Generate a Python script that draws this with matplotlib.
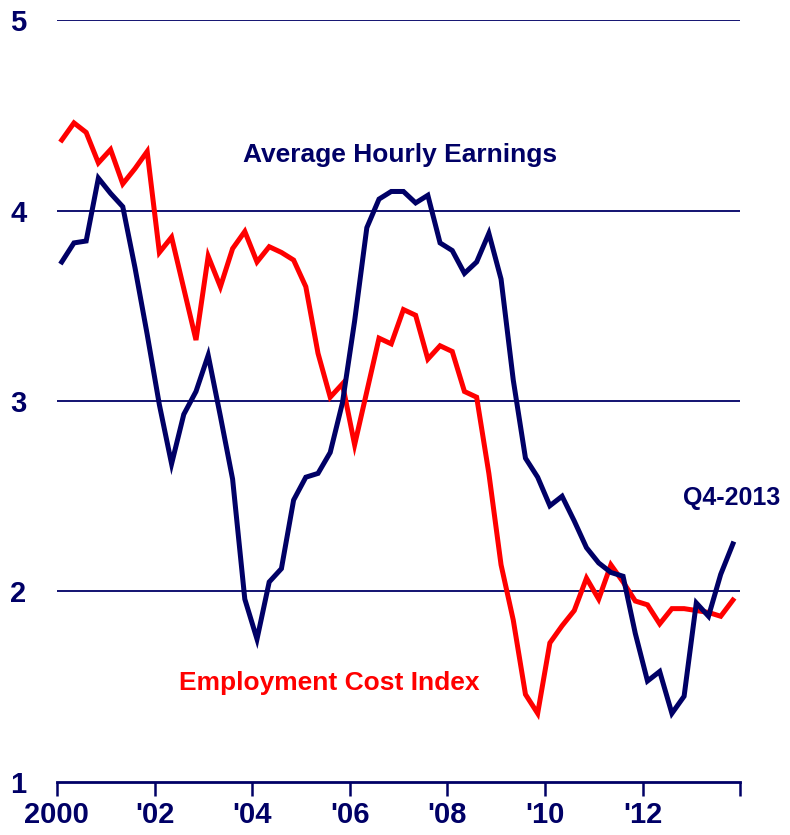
import matplotlib
matplotlib.use("Agg")
import matplotlib.pyplot as plt
import numpy as np

# Quarterly data, Q1-2000 .. Q4-2013 (year-over-year % change)
ahe = [3.73, 3.83, 3.84, 4.17, 4.09, 4.02, 3.70, 3.35, 2.98, 2.67,
       2.93, 3.05, 3.24, 2.92, 2.59, 1.96, 1.75, 2.05, 2.12, 2.48,
       2.60, 2.62, 2.73, 2.99, 3.42, 3.91, 4.06, 4.10, 4.10, 4.04,
       4.08, 3.83, 3.79, 3.67, 3.73, 3.88, 3.64, 3.11, 2.70, 2.60,
       2.45, 2.50, 2.37, 2.23, 2.15, 2.10, 2.08, 1.78, 1.53, 1.58,
       1.36, 1.45, 1.94, 1.87, 2.09, 2.25]
eci = [4.37, 4.46, 4.41, 4.25, 4.32, 4.14, 4.22, 4.31, 3.78, 3.86,
       3.59, 3.32, 3.76, 3.60, 3.80, 3.89, 3.73, 3.81, 3.78, 3.74,
       3.60, 3.25, 3.02, 3.09, 2.77, 3.05, 3.33, 3.30, 3.48, 3.45,
       3.22, 3.29, 3.26, 3.05, 3.02, 2.62, 2.14, 1.85, 1.46, 1.36,
       1.73, 1.82, 1.90, 2.07, 1.96, 2.14, 2.05, 1.95, 1.93, 1.83,
       1.91, 1.91, 1.90, 1.89, 1.87, 1.955]
start_year = 2000
x_ticks = [2000, 2002, 2004, 2006, 2008, 2010, 2012, 2014]
x_tick_labels = ["2000", "'02", "'04", "'06", "'08", "'10", "'12", ""]
y_ticks = [1, 2, 3, 4, 5]

NAVY = "#000066"
RED = "#FF0000"
plt.rcParams['font.family'] = ['Liberation Sans', 'DejaVu Sans']

x = start_year + 0.1 + np.arange(len(ahe)) / 4.0

fig = plt.figure(figsize=(7.9, 8.35), dpi=100)
ax = fig.add_axes([0.072, 0.0635, 0.865, 0.9125])

for yv in y_ticks[1:]:
    ax.axhline(yv, color=NAVY, lw=1.3, zorder=1)

ax.plot(x, ahe, color=NAVY, lw=3.6, solid_joinstyle='miter', zorder=3)
ax.plot(x, eci, color=RED, lw=3.6, solid_joinstyle='miter', zorder=2)

ax.set_xlim(2000, 2014)
ax.set_ylim(1, 5)

for s in ['top', 'right', 'left']:
    ax.spines[s].set_visible(False)
ax.spines['bottom'].set_color(NAVY)
ax.spines['bottom'].set_linewidth(2)

ax.set_xticks(x_ticks)
ax.set_xticklabels(x_tick_labels, fontsize=21, fontweight='bold', color=NAVY)
ax.set_yticks(y_ticks)
ax.set_yticklabels([str(v) for v in y_ticks], fontsize=21, fontweight='bold', color=NAVY)
ax.tick_params(axis='x', direction='out', length=10, width=1.8, color=NAVY, pad=4)
ax.tick_params(axis='y', length=0, pad=22)

ax.text(2007.03, 4.29, "Average Hourly Earnings", color=NAVY, fontsize=19,
        fontweight='bold', ha='center', va='center')
ax.text(2005.57, 1.52, "Employment Cost Index", color=RED, fontsize=19,
        fontweight='bold', ha='center', va='center')
ax.text(2013.82, 2.49, "Q4-2013", color=NAVY, fontsize=18,
        fontweight='bold', ha='center', va='center', clip_on=False)

fig.savefig("out.png", dpi=100)
